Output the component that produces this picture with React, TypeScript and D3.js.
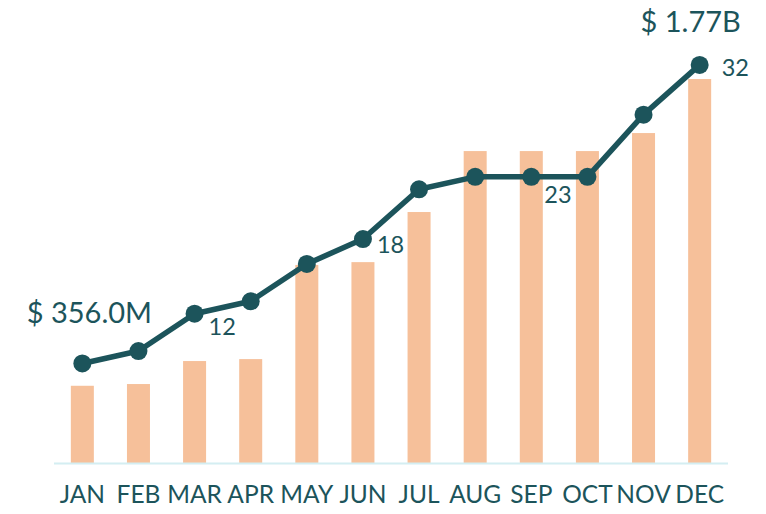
import React from "react";
import * as d3 from "d3";

const months = ["JAN", "FEB", "MAR", "APR", "MAY", "JUN", "JUL", "AUG", "SEP", "OCT", "NOV", "DEC"];
const revenue = [356, 364, 470, 479, 913, 926, 1157, 1438, 1438, 1438, 1521, 1770]; // $M
const counts = [8, 9, 12, 13, 16, 18, 22, 23, 23, 23, 28, 32];
const countLabelMonths = ["MAR", "JUN", "SEP", "DEC"];

const W = 766;
const H = 514;
const TEAL = "#1c545b";
const BAR = "#f6c09a";
const AXIS = "#d4eef2";

const labelOffsets: Record<string, [number, number]> = {
  MAR: [14, 21],
  JUN: [14, 14],
  SEP: [13, 26],
  DEC: [22, 11],
};

function fmtMoney(v: number) {
  return v >= 1000 ? `$ ${(v / 1000).toFixed(2)}B` : `$ ${v.toFixed(1)}M`;
}

export default function App() {
  const x = d3.scaleBand<string>().domain(months).range([54, 728]).paddingInner(0.59).paddingOuter(0.3);
  const yBar = d3.scaleLinear().domain([0, 1950]).range([463, 40]);
  const yLine = d3.scaleLinear().domain([0, 34]).range([463, 40]);
  const cx = (m: string) => (x(m) as number) + x.bandwidth() / 2;
  const line = d3
    .line<number>()
    .x((_, i) => cx(months[i]))
    .y((d) => yLine(d));

  const first = 0;
  const last = months.length - 1;

  return (
    <svg width={W} height={H} style={{ position: "absolute", left: 0, top: 0 }} fontFamily="Lato, sans-serif">
      {months.map((m, i) => (
        <rect key={m} x={x(m)} y={yBar(revenue[i])} width={x.bandwidth()} height={yBar(0) - yBar(revenue[i])} fill={BAR} />
      ))}
      <line x1={54} x2={728} y1={463.5} y2={463.5} stroke={AXIS} strokeWidth={2} />
      {months.map((m) => (
        <text key={m} x={cx(m)} y={503} textAnchor="middle" fontSize={24.5} fill={TEAL}>
          {m}
        </text>
      ))}
      <path d={line(counts) || ""} fill="none" stroke={TEAL} strokeWidth={5.5} strokeLinejoin="round" />
      {counts.map((c, i) => (
        <circle key={i} cx={cx(months[i])} cy={yLine(c)} r={9} fill={TEAL} />
      ))}
      {countLabelMonths.map((m) => {
        const i = months.indexOf(m);
        const [dx, dy] = labelOffsets[m];
        return (
          <text key={m} x={cx(m) + dx} y={yLine(counts[i]) + dy} fontSize={23.5} fill={TEAL}>
            {counts[i]}
          </text>
        );
      })}
      <text x={cx(months[first]) + 7} y={323} textAnchor="middle" fontSize={29} fill={TEAL}>
        {fmtMoney(revenue[first])}
      </text>
      <text x={cx(months[last]) - 9} y={32} textAnchor="middle" fontSize={29} fill={TEAL}>
        {fmtMoney(revenue[last])}
      </text>
    </svg>
  );
}
